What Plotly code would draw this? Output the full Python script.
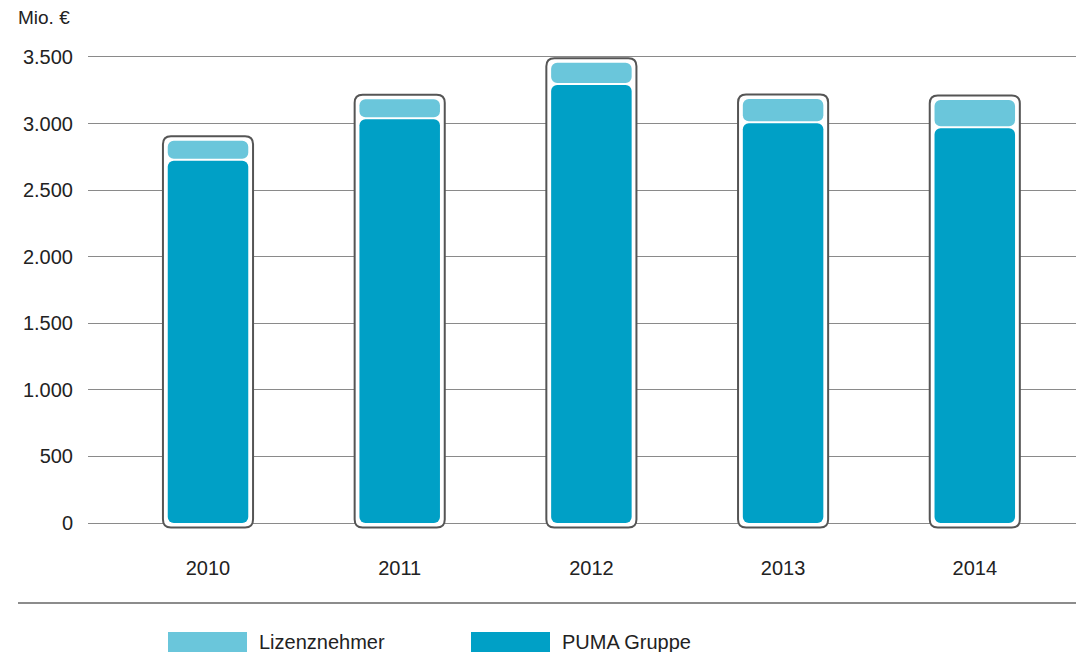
import plotly.graph_objects as go

# Umsatz in Mio. €
jahre = ["2010", "2011", "2012", "2013", "2014"]
puma_gruppe = [2720, 3032, 3290, 3002, 2965]
lizenznehmer = [151, 151, 167, 183, 212]
y_ticks = [0, 500, 1000, 1500, 2000, 2500, 3000, 3500]

dunkel = "#00A0C6"
hell = "#6AC6DB"
grau = "#8a8a8a"

# Plot-Geometrie (Body-Rand wird per Skript entfernt)
W, H = 1076, 652
L, R, T, B = 88, 0, 40, 112
x_range = [-0.626, 4.528]
y_range = [-127.7, 3627.6]
pw, ph = W - L - R, H - T - B
px_x = pw / (x_range[1] - x_range[0])
px_y = ph / (y_range[1] - y_range[0])

luecke = 2 / px_y          # weiße Trennlinie
innen_breite = 0.42
total = [p + l for p, l in zip(puma_gruppe, lizenznehmer)]

fig = go.Figure()

# PUMA Gruppe: nach unten gezeichnet, damit die untere Ecke gerundet ist
fig.add_trace(go.Bar(
    x=list(range(len(jahre))), y=[-p for p in puma_gruppe], base=puma_gruppe,
    width=innen_breite, marker=dict(color=dunkel, cornerradius=6, line=dict(width=0)),
    name="PUMA Gruppe", showlegend=False, hoverinfo="skip",
))
# Lizenznehmer oben drauf
fig.add_trace(go.Bar(
    x=list(range(len(jahre))), y=[t - p - luecke for t, p in zip(total, puma_gruppe)],
    base=[p + luecke for p in puma_gruppe],
    width=innen_breite, marker=dict(color=hell, cornerradius=6, line=dict(width=0)),
    name="Lizenznehmer", showlegend=False, hoverinfo="skip",
))


def rund_rechteck(x0, x1, y0, y1, r_px=8):
    rx, ry = r_px / px_x, r_px / px_y
    return (f"M{x0 + rx},{y0} L{x1 - rx},{y0} Q{x1},{y0} {x1},{y0 + ry} "
            f"L{x1},{y1 - ry} Q{x1},{y1} {x1 - rx},{y1} "
            f"L{x0 + rx},{y1} Q{x0},{y1} {x0},{y1 - ry} "
            f"L{x0},{y0 + ry} Q{x0},{y0} {x0 + rx},{y0} Z")


shapes = []
aussen_halb = 0.235
rand = 4.5 / px_y
for i, t in enumerate(total):
    shapes.append(dict(
        type="path", xref="x", yref="y", layer="between",
        path=rund_rechteck(i - aussen_halb, i + aussen_halb, -rand, t + rand),
        fillcolor="white", line=dict(color="#555", width=2),
    ))


def px2x(px): return (px - L) / pw
def px2y(py): return (H - B - py) / ph


# Trennlinie unter den Jahreszahlen
shapes.append(dict(type="line", xref="paper", yref="paper",
                   x0=px2x(18), x1=1.0, y0=px2y(603), y1=px2y(603),
                   line=dict(color="#666", width=1.5)))

# Legende als Flächen + Text
legende = [("Lizenznehmer", hell, 168), ("PUMA Gruppe", dunkel, 471)]
annotations = []
for name, farbe, x0 in legende:
    shapes.append(dict(type="rect", xref="paper", yref="paper",
                       x0=px2x(x0), x1=px2x(x0 + 79), y0=px2y(632), y1=px2y(653),
                       fillcolor=farbe, line=dict(width=0)))
    annotations.append(dict(text=name, xref="paper", yref="paper",
                            x=px2x(x0 + 89), y=px2y(642), xanchor="left", yanchor="middle",
                            showarrow=False, font=dict(size=20, color="#222")))

annotations.append(dict(text="Mio. €", xref="paper", yref="paper",
                        x=px2x(16), y=px2y(18), xanchor="left", yanchor="middle",
                        showarrow=False, font=dict(size=19, color="#222")))

fig.update_layout(
    width=W, height=H,
    margin=dict(l=L, r=R, t=T, b=B),
    barmode="overlay",
    paper_bgcolor="white", plot_bgcolor="white",
    separators=",.",
    font=dict(family="Liberation Sans, Arial, sans-serif", size=20, color="#222"),
    shapes=shapes, annotations=annotations,
    showlegend=False,
    xaxis=dict(range=x_range, tickmode="array", tickvals=list(range(len(jahre))),
               ticktext=jahre, showgrid=False, zeroline=False, showline=False,
               ticks="", ticklabelstandoff=14, tickfont=dict(size=20)),
    yaxis=dict(range=y_range, tickvals=y_ticks, tickformat=",d",
               showgrid=True, gridcolor=grau, gridwidth=1,
               zeroline=True, zerolinecolor=grau, zerolinewidth=1,
               showline=False, ticks="", ticklabelstandoff=14, tickfont=dict(size=20)),
)

fig.write_html("out.html", config={"displayModeBar": False},
               post_script="document.body.style.margin='0';document.body.style.overflow='hidden';")
